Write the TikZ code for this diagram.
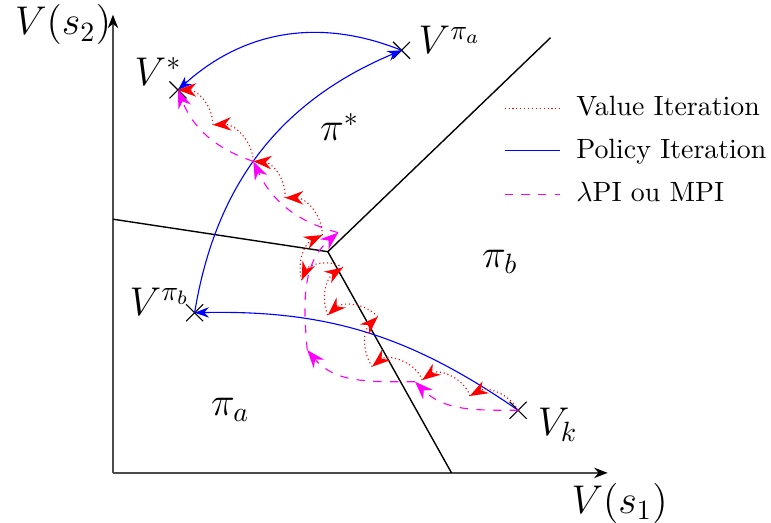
\documentclass[tikz,border=0pt]{standalone}
\usepackage{amsmath}
\usepackage{xcolor}
\usetikzlibrary{arrows.meta,positioning,shapes.misc}
\definecolor{lpimag}{RGB}{255,0,255}
\definecolor{vired}{RGB}{255,0,0}
\definecolor{piblue}{RGB}{0,0,255}
\tikzset{
  axisarr/.style={-{Stealth[length=1.7mm, width=1.3mm, color=black]}, line width=0.8pt, draw=black!70},
  regline/.style={line width=0.5pt},
  vcross/.style={cross out, draw, minimum size=0.2cm, inner sep=0pt, line width=0.4pt},
  viarr/.style={draw=vired, densely dotted, -{Stealth[length=2.3mm, width=1.7mm]}},
  piarr/.style={draw=piblue, -{Stealth[length=1.8mm, width=1.3mm]}},
  lpiarr/.style={draw=lpimag, dashed, -{Stealth[length=2.3mm, width=1.7mm]}},
}

\begin{document}
\begin{tikzpicture}[
  biglbl/.style={font=\Large},
  legtext/.style={text height=1.5ex, text depth=.25ex},
]
  \useasboundingbox (-1.425,-0.63) rectangle (8.30,5.965);

  % axes
  \coordinate (o) at (0,0);
  \coordinate (xend) at (6.24,0);
  \coordinate (yend) at (0,5.78);
  \draw[axisarr] (o) -- (xend);
  \draw[axisarr] (o) -- (yend);
  \node[biglbl] (ys2) at (-0.63,5.65) {$V(s_2)$};
  \node[biglbl] (xs1) at (6.39,-0.38) {$V(s_1)$};

  % policy regions
  \coordinate (j) at (2.71,2.79);
  \coordinate (rl) at (0,3.20);
  \coordinate (rt) at (5.52,5.49);
  \coordinate (rb) at (4.27,0);
  \draw[regline] (rl) -- (j) -- (rt);
  \draw[regline] (j) -- (rb);
  \node[biglbl] (pistar) at (2.86,4.36) {$\pi^*$};
  \node[biglbl] (pib) at (4.88,2.66) {$\pi_b$};
  \node[biglbl] (pia) at (1.48,0.79) {$\pi_a$};

  % value functions
  \node[vcross] (vk) at (5.11,0.79) {};
  \node[vcross] (vpib) at (1.03,2.02) {};
  \node[vcross] (vpia) at (3.64,5.33) {};
  \node[vcross] (vstar) at (0.82,4.83) {};
  \node[biglbl] (vklbl) at (5.61,0.61) {$V_k$};
  \node[biglbl] (vpiblbl) at (0.59,2.16) {$V^{\pi_b}$};
  \node[biglbl] (vpialbl) at (4.25,5.46) {$V^{\pi_a}$};
  \node[biglbl] (vstarlbl) at (0.57,5.06) {$V^*$};

  % policy iteration
  \draw[piarr] (vk.center) to[bend right=18] (vpib.center);
  \draw[piarr] (vpib.center) to[bend left=29] (vpia.center);
  \draw[piarr] (vpia.center) to[bend right=32] (vstar.center);

  % value iteration
  \coordinate (p1) at (4.50,0.97);
  \coordinate (p2) at (3.90,1.17);
  \coordinate (p3) at (3.27,1.34);
  \coordinate (p4) at (3.34,1.97);
  \coordinate (p5) at (2.71,1.99);
  \coordinate (p6) at (2.90,2.59);
  \coordinate (p7) at (2.38,2.43);
  \coordinate (p8) at (2.64,3.00);
  \coordinate (p9) at (2.17,3.47);
  \coordinate (p10) at (1.77,3.93);
  \coordinate (p11) at (1.26,4.39);
  \draw[viarr] (vk.center) to[bend right=45] (p1);
  \draw[viarr] (p1) to[bend right=55] (p2);
  \draw[viarr] (p2) to[bend right=55] (p3);
  \draw[viarr] (p3) to[bend left=40] (p4);
  \draw[viarr] (p4) to[bend right=45] (p5);
  \draw[viarr] (p5) to[bend left=40] (p6);
  \draw[viarr] (p6) to[bend right=50] (p7);
  \draw[viarr] (p7) to[bend left=40] (p8);
  \draw[viarr] (p8) to[bend right=45] (p9);
  \draw[viarr] (p9) to[bend right=45] (p10);
  \draw[viarr] (p10) to[bend right=45] (p11);
  \draw[viarr] (p11) to[bend right=45] (vstar.center);

  % lambda PI / MPI
  \coordinate (m1) at (3.81,1.15);
  \coordinate (m2) at (2.45,1.55);
  \coordinate (m3) at (2.84,3.03);
  \draw[lpiarr] (vk.center) to[out=180, in=-45] (m1);
  \draw[lpiarr] (m1) to[out=180, in=-50] (m2);
  \draw[lpiarr] (m2) to[out=95, in=220] (m3);
  \draw[lpiarr] (m3) to[bend left=25] (p10);
  \draw[lpiarr] (p10) to[bend left=25] (vstar.center);

  % legend
  \node[legtext, anchor=west] (lvi) at (5.72,4.60) {Value Iteration};
  \node[legtext, below=0.03cm of lvi.south west, anchor=north west] (lpi) {Policy Iteration};
  \node[legtext, below=0.03cm of lpi.south west, anchor=north west] (llpi) {$\lambda$PI ou MPI};
  \draw[vired, densely dotted] ([xshift=-0.78cm]lvi.west) -- ([xshift=-0.08cm]lvi.west);
  \draw[piblue, line width=0.55pt] ([xshift=-0.78cm, yshift=0.2pt]lpi.west) -- ([xshift=-0.08cm, yshift=0.2pt]lpi.west);
  \draw[lpimag, dashed] ([xshift=-0.78cm]llpi.west) -- ([xshift=-0.08cm]llpi.west);
\end{tikzpicture}
\end{document}
